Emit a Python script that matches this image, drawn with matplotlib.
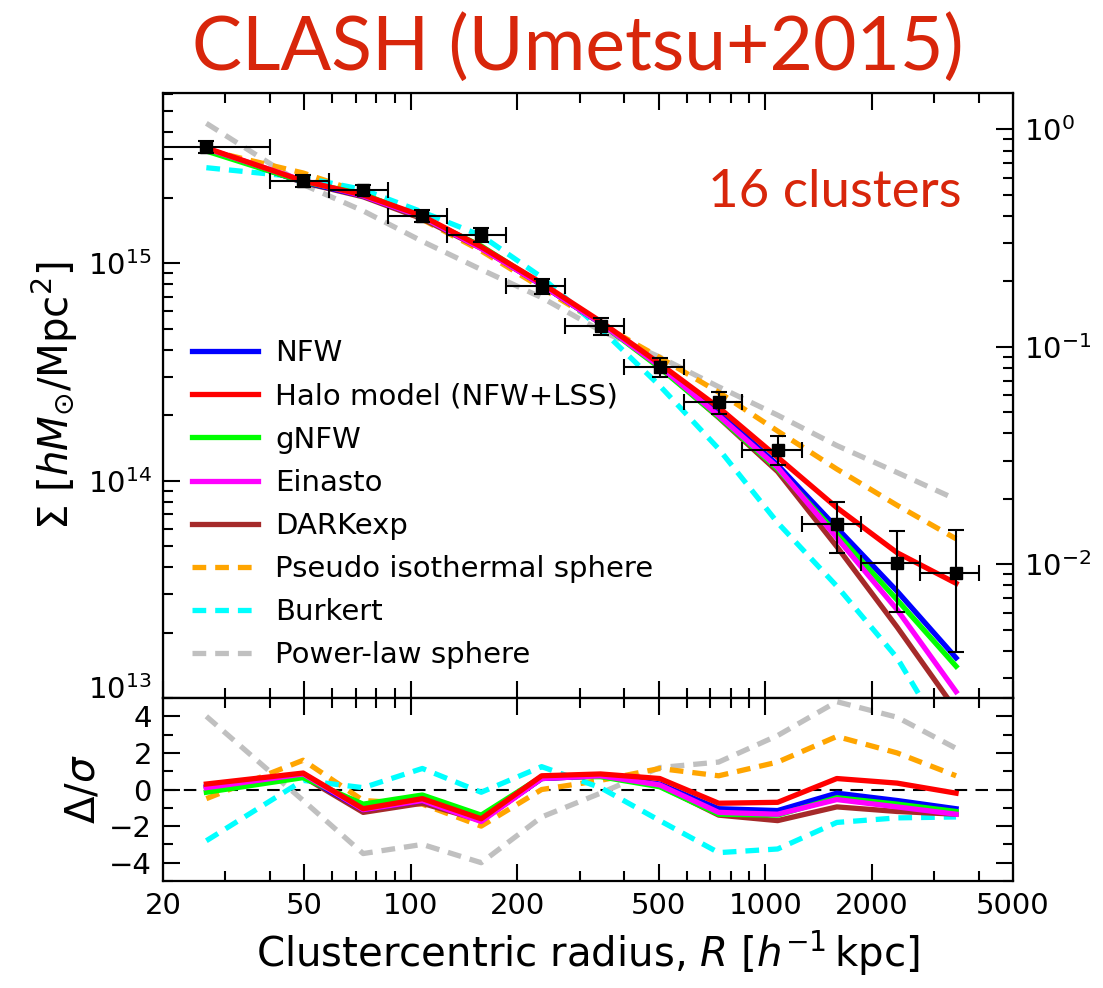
import numpy as np
import matplotlib
matplotlib.use('Agg')
import matplotlib.pyplot as plt
from matplotlib.ticker import FixedLocator, NullFormatter, LogLocator
from matplotlib.transforms import ScaledTranslation

# ---- data (Sigma in units of 1e14 h Msun / Mpc^2) ----
radius = [26.5, 49.7, 73.4, 107.8, 158, 234, 343, 504, 739, 1084, 1592, 2355, 3454]
r_lo = [17, 40.1, 58.6, 86.3, 126.7, 186, 273, 400, 590, 862, 1268, 1862, 2734]
r_hi = [40.1, 58.6, 86.3, 126.7, 186, 273, 400, 590, 862, 1268, 1862, 2734, 4013]
sigma = [34.3, 23.9, 21.7, 16.5, 13.5, 7.83, 5.13, 3.32, 2.29, 1.39, 0.634, 0.419, 0.377]
sigma_err = [2.2, 1.57, 1.18, 1.1, 1.04, 0.65, 0.45, 0.33, 0.27, 0.21, 0.167, 0.17, 0.215]

nfw = [33.5, 23.6, 20.4, 16.3, 11.8, 7.95, 5.3, 3.38, 2.06, 1.18, 0.607, 0.31, 0.153]
halo = [33.9, 23.9, 20.6, 16.5, 11.9, 8.1, 5.4, 3.45, 2.17, 1.28, 0.751, 0.466, 0.337]
gnfw = [32.8, 23.7, 20.8, 16.2, 12.0, 8.0, 5.3, 3.3, 1.96, 1.13, 0.57, 0.283, 0.14]
einasto = [33.7, 24.0, 20.4, 16.3, 11.7, 7.95, 5.3, 3.36, 1.99, 1.15, 0.546, 0.255, 0.107]
darkexp = [33.7, 23.5, 20.2, 16.0, 11.7, 7.95, 5.3, 3.35, 1.95, 1.10, 0.497, 0.212, 0.088]
pis = [33.2, 26.0, 21.0, 15.9, 11.4, 7.7, 5.25, 3.68, 2.55, 1.69, 1.13, 0.77, 0.54]
burkert = [27.5, 24.8, 21.8, 17.2, 13.4, 8.62, 5.0, 2.73, 1.40, 0.64, 0.327, 0.153, 0.054]
powerlaw = [44.0, 23.0, 17.4, 12.6, 9.35, 6.95, 4.9, 3.7, 2.7, 2.0, 1.45, 1.09, 0.82]

# residuals Delta/sigma
res_nfw = [0.15, 0.75, -1.1, -0.6, -1.7, 0.6, 0.75, 0.3, -1.05, -1.15, -0.2, -0.6, -1.05]
res_halo = [0.3, 0.9, -1.05, -0.5, -1.6, 0.75, 0.85, 0.6, -0.75, -0.7, 0.6, 0.35, -0.2]
res_gnfw = [-0.15, 0.65, -0.8, -0.3, -1.4, 0.7, 0.7, 0.15, -1.35, -1.4, -0.45, -0.8, -1.2]
res_einasto = [0.1, 0.85, -1.1, -0.6, -1.75, 0.6, 0.75, 0.25, -1.25, -1.35, -0.55, -0.95, -1.35]
res_darkexp = [0.1, 0.7, -1.25, -0.75, -1.7, 0.6, 0.75, 0.2, -1.4, -1.7, -0.95, -1.2, -1.35]
res_pis = [-0.5, 1.6, -0.6, -0.8, -2.0, 0.0, 0.5, 1.15, 0.75, 1.5, 2.9, 2.0, 0.75]
res_burkert = [-2.8, 0.5, 0.1, 1.15, -0.15, 1.25, 0.1, -1.7, -3.45, -3.25, -1.8, -1.55, -1.5]
res_powerlaw = [4.0, -0.6, -3.5, -3.0, -4.0, -1.5, -0.2, 1.2, 1.5, 2.95, 4.8, 3.95, 2.25]

scale = 1e14
r = np.array(radius)
xerr = [r - np.array(r_lo), np.array(r_hi) - r]

models = [
    ('NFW', nfw, res_nfw, 'blue', '-', 4),
    ('Halo model (NFW+LSS)', halo, res_halo, 'red', '-', 8),
    ('gNFW', gnfw, res_gnfw, 'lime', '-', 5),
    ('Einasto', einasto, res_einasto, 'magenta', '-', 6),
    ('DARKexp', darkexp, res_darkexp, 'brown', '-', 3),
    ('Pseudo isothermal sphere', pis, res_pis, 'orange', '--', 2),
    ('Burkert', burkert, res_burkert, 'cyan', '--', 2),
    ('Power-law sphere', powerlaw, res_powerlaw, 'silver', '--', 1),
]

plt.rcParams['font.family'] = 'DejaVu Sans'
plt.rcParams['mathtext.fontset'] = 'dejavusans'

fig = plt.figure(figsize=(11.03, 9.88), dpi=100)
L, R = 0.1478, 0.9184
ax = fig.add_axes([L, 0.2935, R - L, 0.9059 - 0.2935])
axr = fig.add_axes([L, 0.1083, R - L, 0.2935 - 0.1083])

handles = []
for name, vals, res, col, ls, z in models:
    kw = dict(color=col, lw=3.8, zorder=z)
    if ls == '--':
        kw['dashes'] = (2.6, 1.7)
    h, = ax.plot(r, np.array(vals) * scale, label=name, **kw)
    axr.plot(r, res, **kw)
    handles.append(h)

ax.errorbar(r, np.array(sigma) * scale, yerr=np.array(sigma_err) * scale, xerr=xerr,
            fmt='s', color='black', ms=8.5, elinewidth=1.5, capsize=5.5, capthick=1.5,
            zorder=10)

ax.set_xscale('log')
ax.set_yscale('log')
ax.set_xlim(20, 5000)
ax.set_ylim(1e13, 10**15.783)

axr.set_xscale('log')
axr.set_xlim(20, 5000)
axr.set_ylim(-5, 5)
axr.axhline(0, color='black', lw=1.5, dashes=(6, 4), zorder=0)

major_x = [20, 50, 100, 200, 500, 1000, 2000, 5000]
minor_x = [30, 40, 60, 70, 80, 90, 300, 400, 600, 700, 800, 900,
           3000, 4000]
for a in (ax, axr):
    a.xaxis.set_major_locator(FixedLocator(major_x))
    a.xaxis.set_minor_locator(FixedLocator(minor_x))
    a.xaxis.set_minor_formatter(NullFormatter())
    a.tick_params(which='both', direction='in', top=True, right=True, width=1.5)
    a.tick_params(which='major', length=12, labelsize=21, pad=8)
    a.tick_params(which='minor', length=7)
    for s in a.spines.values():
        s.set_linewidth(1.6)

ax.tick_params(labelbottom=False, right=False)
ax.yaxis.set_major_locator(FixedLocator([1e13, 1e14, 1e15]))
ax.yaxis.set_minor_locator(LogLocator(base=10, subs=np.arange(2, 10)))
ax.yaxis.set_minor_formatter(NullFormatter())
axr.set_xticklabels([str(v) for v in major_x])
axr.yaxis.set_major_locator(FixedLocator([-4, -2, 0, 2, 4]))
axr.yaxis.set_minor_locator(FixedLocator([-5, -3, -1, 1, 3, 5]))

# right-hand axis (normalised)
ax2 = ax.twinx()
ax2.set_yscale('log')
norm = 10**15.615
ax2.set_ylim(1e13 / norm, 10**15.783 / norm)
ax2.yaxis.set_minor_locator(LogLocator(base=10, subs=np.arange(2, 10)))
ax2.yaxis.set_minor_formatter(NullFormatter())
ax2.tick_params(which='both', direction='in', width=1.5)
ax2.tick_params(which='major', length=12, labelsize=21, pad=8)
ax2.tick_params(which='minor', length=7)

ax.set_ylabel(r'$\Sigma\ [hM_{\odot}/{\rm Mpc}^2]$', fontsize=29, labelpad=6)
axr.set_ylabel(r'$\Delta/\sigma$', fontsize=29, labelpad=4)
axr.set_xlabel(r'Clustercentric radius, $R\ [h^{-1}\,{\rm kpc}]$', fontsize=29, labelpad=6)
fig.align_ylabels([ax, axr])

leg = ax.legend(handles=handles, loc='upper left', bbox_to_anchor=(0.034, 0.593),
                frameon=False, fontsize=21, handlelength=2.25, handletextpad=0.6,
                labelspacing=0.52, borderpad=0, borderaxespad=0)

ax.text(0.94, 0.835, '16 clusters', transform=ax.transAxes, ha='right', va='center',
        fontsize=38, color='#d8260b', family='Lato')
fig.text(0.524, 0.951, 'CLASH (Umetsu+2015)', ha='center', va='center',
         fontsize=54, color='#d8260b', family='Lato')

# lift the bottom 10^13 label a little so it clears the residual panel labels
fig.canvas.draw()
for tick in ax.yaxis.get_major_ticks():
    if np.isclose(tick.get_loc(), 1e13):
        lab = tick.label1
        lab.set_transform(lab.get_transform() + ScaledTranslation(0, 8 / 72, fig.dpi_scale_trans))

fig.savefig('out.png', dpi=100)
